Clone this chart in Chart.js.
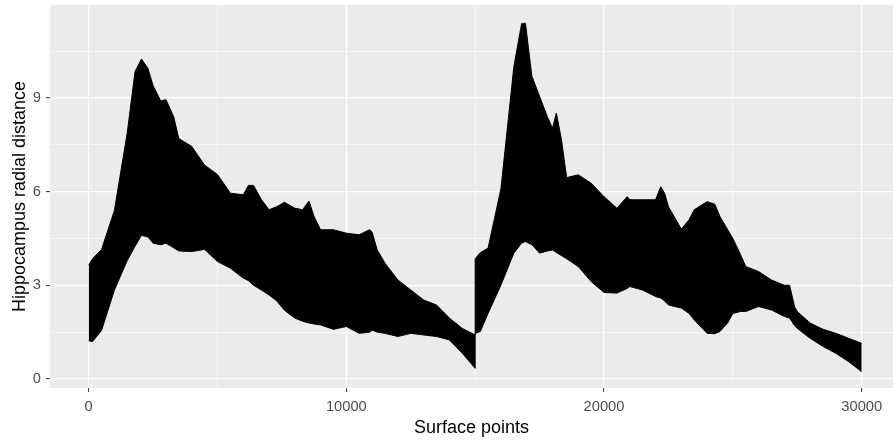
<!DOCTYPE html>
<html>
<head>
<meta charset="utf-8">
<script src="https://cdn.jsdelivr.net/npm/chart.js@4.4.1/dist/chart.umd.min.js"></script>
<style>
  html, body { margin: 0; padding: 0; background: #ffffff; }
  #wrap { width: 893px; height: 444px; }
</style>
</head>
<body>
<div id="wrap"><canvas id="c" width="893" height="444"></canvas></div>
<script>
// Surface point index (x) at which the band edges were read
const surfacePoints = [0,150,500,1000,1500,1800,2050,2300,2500,2800,3000,3300,3500,4000,4500,5000,5500,6000,6200,6400,6700,7000,7300,7600,8000,8300,8550,8750,9000,9500,10000,10500,10900,11000,11200,11500,12000,12500,13000,13500,14000,14500,15000,15000,15200,15500,16000,16500,16800,16950,17200,17500,17800,18000,18150,18350,18550,19000,19500,20000,20500,20900,21000,21500,22000,22200,22350,22500,23000,23300,23500,24000,24300,24500,24800,25000,25300,25500,26000,26500,27000,27200,27400,27500,28000,28500,29000,29500,30000];
// Upper extent of the oscillating radial distance trace
const upperDistance = [3.65,3.85,4.15,5.4,7.9,9.85,10.25,9.95,9.4,8.9,8.95,8.4,7.7,7.45,6.85,6.55,5.95,5.9,6.2,6.2,5.75,5.42,5.52,5.66,5.47,5.42,5.7,5.2,4.78,4.78,4.67,4.62,4.78,4.7,4.13,3.71,3.17,2.85,2.53,2.37,1.95,1.62,1.41,3.85,4.05,4.19,6.1,10.0,11.38,11.4,9.7,9.05,8.4,8.03,8.52,7.66,6.45,6.54,6.27,5.84,5.47,5.84,5.74,5.74,5.74,6.16,5.95,5.52,4.8,5.1,5.42,5.68,5.6,5.2,4.78,4.5,3.98,3.6,3.44,3.17,3.0,3.0,2.3,2.16,1.79,1.59,1.46,1.3,1.14];
// Lower extent of the oscillating radial distance trace
const lowerDistance = [1.22,1.2,1.55,2.85,3.8,4.25,4.6,4.55,4.35,4.3,4.35,4.2,4.1,4.08,4.15,3.76,3.55,3.23,3.15,3.0,2.85,2.69,2.5,2.2,1.95,1.85,1.79,1.76,1.73,1.59,1.68,1.46,1.5,1.56,1.5,1.46,1.36,1.46,1.41,1.36,1.25,0.82,0.34,1.46,1.52,2.1,3.01,4.03,4.35,4.4,4.3,4.03,4.1,4.13,4.05,3.95,3.85,3.6,3.12,2.77,2.75,2.9,2.96,2.85,2.64,2.59,2.5,2.37,2.27,2.1,1.89,1.46,1.45,1.52,1.8,2.1,2.16,2.16,2.32,2.21,2.0,1.95,1.7,1.62,1.3,1.04,0.82,0.55,0.23];
// Axis tick positions (majors labelled, minors are grid only)
const xTickValues = [0,5000,10000,15000,20000,25000,30000];
const xTickLabels = {0:'0',10000:'10000',20000:'20000',30000:'30000'};
const yTickValues = [0,1.5,3,4.5,6,7.5,9,10.5];
const yTickLabels = {0:'0',3:'3',6:'6',9:'9'};

const FONT = '"Liberation Sans", Arial, Helvetica, sans-serif';

const panelBg = {
  id: 'panelBg',
  beforeDraw(chart) {
    const {ctx, chartArea: a} = chart;
    ctx.save();
    ctx.fillStyle = '#EBEBEB';
    ctx.fillRect(a.left, a.top, a.right - a.left, a.bottom - a.top);
    ctx.restore();
  }
};

const lowerPts = surfacePoints.map((x, i) => ({x: x, y: lowerDistance[i]}));
const upperPts = surfacePoints.map((x, i) => ({x: x, y: upperDistance[i]}));

function noPad(s) { s.paddingTop = 0; s.paddingBottom = 0; s.paddingLeft = 0; s.paddingRight = 0; }

new Chart(document.getElementById('c'), {
  type: 'line',
  data: {
    datasets: [
      { data: lowerPts, borderColor: '#000', borderWidth: 1, pointRadius: 0, fill: false, tension: 0 },
      { data: upperPts, borderColor: '#000', borderWidth: 1, pointRadius: 0, fill: '-1', backgroundColor: '#000', tension: 0 }
    ]
  },
  options: {
    responsive: false,
    animation: false,
    devicePixelRatio: 1,
    layout: { padding: { top: 5, right: 0, left: 0, bottom: 0 } },
    plugins: { legend: { display: false }, tooltip: { enabled: false } },
    scales: {
      x: {
        type: 'linear',
        min: -1500,
        max: 31214,
        afterBuildTicks: s => { s.ticks = xTickValues.map(v => ({value: v})); },
        afterFit: s => { s.height = 56; noPad(s); },
        border: { display: false },
        grid: {
          color: '#FFFFFF',
          lineWidth: c => (c.tick && xTickLabels[c.tick.value] !== undefined) ? 1.2 : 0.6,
          drawTicks: true,
          tickLength: 4,
          tickWidth: 1,
          tickColor: c => (c.tick && xTickLabels[c.tick.value] !== undefined) ? '#333333' : 'rgba(0,0,0,0)'
        },
        ticks: {
          autoSkip: false,
          maxRotation: 0,
          padding: 6,
          color: '#4D4D4D',
          font: { family: FONT, size: 14.7 },
          callback: v => (xTickLabels[v] !== undefined ? xTickLabels[v] : '')
        },
        title: {
          display: true,
          text: 'Surface points',
          color: '#000000',
          font: { family: FONT, size: 18 },
          padding: { top: 0, bottom: 5 }
        }
      },
      y: {
        type: 'linear',
        min: -0.29,
        max: 11.98,
        afterBuildTicks: s => { s.ticks = yTickValues.map(v => ({value: v})); },
        afterFit: s => { s.width = 50; noPad(s); },
        border: { display: false },
        grid: {
          color: '#FFFFFF',
          lineWidth: c => (c.tick && yTickLabels[c.tick.value] !== undefined) ? 1.2 : 0.6,
          drawTicks: true,
          tickLength: 4,
          tickWidth: 1,
          tickColor: c => (c.tick && yTickLabels[c.tick.value] !== undefined) ? '#333333' : 'rgba(0,0,0,0)'
        },
        ticks: {
          autoSkip: false,
          padding: 5,
          color: '#4D4D4D',
          font: { family: FONT, size: 14.7 },
          callback: v => (yTickLabels[v] !== undefined ? yTickLabels[v] : '')
        },
        title: {
          display: true,
          text: 'Hippocampus radial distance',
          color: '#000000',
          font: { family: FONT, size: 18 },
          padding: { top: 9, bottom: 0 }
        }
      }
    }
  },
  plugins: [panelBg]
});
</script>
</body>
</html>
